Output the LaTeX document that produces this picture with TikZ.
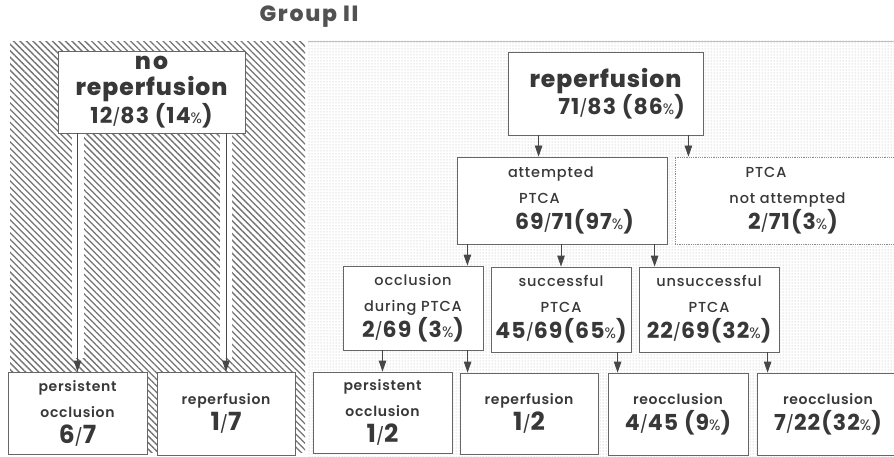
\documentclass[tikz,border=0pt]{standalone}
\usepackage{fontspec}
\setmainfont{Poppins}
\newfontfamily\gruesa{Poppins ExtraBold}[LetterSpace=4]
\newfontfamily\negrita{Poppins Bold}[LetterSpace=5]
\newfontfamily\media{Poppins SemiBold}[LetterSpace=5]
\newfontfamily\mediana{Poppins Medium}[LetterSpace=6]
\usetikzlibrary{arrows.meta}
\usetikzlibrary{patterns.meta}

% Tamaños de letra usados en las cajas
\newcommand{\titulo}{\gruesa\fontsize{23.5}{28}\selectfont}
\newcommand{\cifra}{\negrita\fontsize{22}{26}\selectfont}
\newcommand{\grande}{\negrita\fontsize{25}{26}\selectfont}
\newcommand{\etiq}{\media\fontsize{14}{26}\selectfont}
\newcommand{\barra}{{\normalfont\fontsize{17}{26}\selectfont/}}
\newcommand{\pct}{{\normalfont\fontsize{15}{26}\selectfont\%}}

\begin{document}
\begin{tikzpicture}[
        x=1pt, y=-1pt, % coordenadas en puntos, eje y hacia abajo
        font=\mediana\fontsize{14.5}{26}\selectfont,
        text=black!78,
        % --- Estilos ---
        caja/.style={draw=black!60, line width=0.8pt, fill=white, inner sep=0pt, align=center},
        cajatenue/.style={caja, draw=black!45, densely dotted},
        flecha/.style={-{Triangle[length=11pt, width=7.5pt]}, line width=0.8pt, draw=black!72},
        hueco/.style={draw=white, line width=12pt},
    ]
        \useasboundingbox (0,0) rectangle (894,457);
        \fill[white] (0,0) rectangle (894,457);

        % --- 1. Fondos: rayado (sin reperfusion) y punteado (reperfusion) ---
        \fill[pattern={Lines[angle=-45, distance=4.6pt, line width=1.3pt]}, pattern color=black!55]
            (10,42) rectangle (305,452);
        \fill[pattern={Dots[distance=3pt, radius=0.5pt]}, pattern color=black!30]
            (308,41) rectangle (894,457);
        \draw[black!25, line width=0.6pt] (308,41) -- (894,41);

        \node[font=\gruesa\fontsize{22}{24}\selectfont\addfontfeatures{LetterSpace=8}, text=black!68] (grupo) at (309,17) {Group II};

        % --- 2. Cajas de la rama sin reperfusion ---
        \node[caja, minimum width=187pt, minimum height=82pt] (noreperf) at (151.5,92)
            {{\titulo n\kern2pt o}\\{\titulo reperfusion}\\{\cifra 12\barra83 (14\pct)}};
        \node[caja, minimum width=139pt, minimum height=82pt] (pers1) at (77.5,413)
            {{\etiq persistent}\\{\etiq occlusion}\\{\grande 6\barra7}};
        \node[caja, minimum width=138pt, minimum height=83pt] (rep1) at (226,413.5)
            {{\etiq reperfusion}\\{\grande 1\barra7}};

        % --- 3. Cajas de la rama con reperfusion ---
        \node[caja, minimum width=195pt, minimum height=83pt] (reperf) at (605.5,93.5)
            {{\titulo reperfusion}\\\hspace*{32pt}{\cifra 71\barra83 (86\pct)}};
        \node[caja, minimum width=210pt, minimum height=87pt, align=left, text width=150pt] (intento) at (562,200.5)
            {\hspace*{21pt}attempted\\\hspace*{32pt}PTCA\\\hspace*{28pt}{\cifra 69\barra71(97\pct)}};
        \node[cajatenue, minimum width=225pt, minimum height=87pt] (nointento) at (787.5,200.5)
            {PTCA\hspace*{43pt}\\not attempted\hspace*{19pt}\\\hspace*{11pt}{\cifra 2\barra71(3\pct)}};

        \node[caja, minimum width=140pt, minimum height=84pt] (oclus) at (413,308)
            {occlusion\\during PTCA\\{\cifra 2\barra69 (3\pct)}};
        \node[caja, minimum width=140pt, minimum height=85pt] (exito) at (561,309.5)
            {successful\\PTCA\\{\cifra 45\barra69(65\pct)}};
        \node[caja, minimum width=140pt, minimum height=85pt] (fracaso) at (709,309.5)
            {unsuccessful\\PTCA\\{\cifra 22\barra69(32\pct)}};

        \node[caja, minimum width=139pt, minimum height=81pt] (pers2) at (382.5,412.5)
            {{\etiq persistent}\\{\etiq occlusion}\\{\grande 1\barra2}};
        \node[caja, minimum width=138pt, minimum height=81pt] (rep2) at (529,413.5)
            {{\etiq reperfusion}\\{\grande 1\barra2}};
        \node[caja, minimum width=140pt, minimum height=82pt] (reocl1) at (678,414)
            {{\etiq reocclusion}\\{\cifra 4\barra45 (9\pct)}};
        \node[caja, minimum width=142pt, minimum height=82pt] (reocl2) at (828,414)
            {{\etiq reocclusion}\\{\cifra 7\barra22(32\pct)}};

        % --- 4. Flechas ---
        % franjas blancas junto a las flechas del rayado
        \draw[hueco] ([yshift=-1pt]noreperf.south -| pers1) -- ([yshift=14pt]pers1.north);
        \draw[hueco] ([yshift=-1pt]noreperf.south -| rep1) -- ([yshift=14pt]rep1.north);
        \draw[flecha] (noreperf.south -| pers1) -- (pers1.north);
        \draw[flecha] (noreperf.south -| rep1) -- (rep1.north);

        \draw[flecha] ([xshift=31pt]reperf.south west) -- ([xshift=31pt]reperf.south west |- intento.north);
        \draw[flecha] ([xshift=-15pt]reperf.south east) -- ([xshift=-15pt]reperf.south east |- nointento.north);

        \draw[flecha] ([xshift=-16pt]oclus.north east |- intento.south) -- ([xshift=-16pt]oclus.north east);
        \draw[flecha] (intento.south -| exito) -- (exito.north);
        \draw[flecha] ([xshift=16pt]fracaso.north west |- intento.south) -- ([xshift=16pt]fracaso.north west);

        \draw[flecha] (oclus.south -| pers2) -- (pers2.north);
        \draw[flecha] ([xshift=8pt]rep2.north west |- oclus.south) -- ([xshift=8pt]rep2.north west);
        \draw[flecha] ([xshift=10pt]reocl1.north west |- exito.south) -- ([xshift=10pt]reocl1.north west);
        \draw[flecha] ([xshift=11pt]reocl2.north west |- fracaso.south) -- ([xshift=11pt]reocl2.north west);

    \end{tikzpicture}
\end{document}
